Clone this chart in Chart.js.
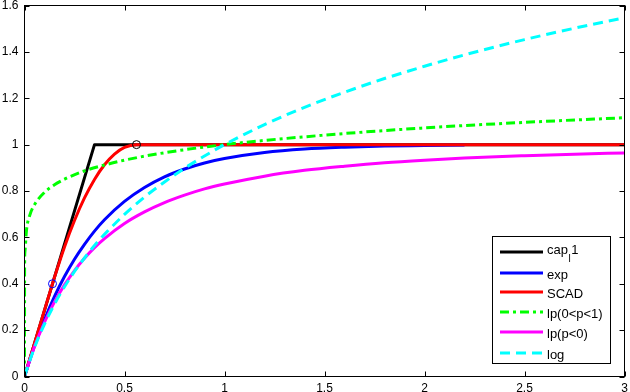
<!DOCTYPE html>
<html><head><meta charset="utf-8">
<style>html,body{margin:0;padding:0;background:#fff}canvas{display:block}</style>
<script src="https://cdn.jsdelivr.net/npm/chart.js@4.4.1/dist/chart.umd.min.js"></script>
</head><body>
<canvas id="c" width="630" height="392"></canvas>
<script>
// ---- data ----
const xTickValues = [0, 0.5, 1, 1.5, 2, 2.5, 3];
const xTickLabels = ['0', '0.5', '1', '1.5', '2', '2.5', '3'];
const yTickValues = [0, 0.2, 0.4, 0.6, 0.8, 1, 1.2, 1.4, 1.6];
const yTickLabels = ['0', '0.2', '0.4', '0.6', '0.8', '1', '1.2', '1.4', '1.6'];

const seriesNames = ['cap_l1', 'exp', 'SCAD', 'lp(0<p<1)', 'lp(p<0)', 'log'];

const capX = [0, 0.35, 3];
const capY = [0, 1, 1];

const expX = [0,0.05,0.1,0.15,0.2,0.25,0.3,0.35,0.4,0.5,0.6,0.7,0.8,0.9,1,1.2,1.4,1.6,1.8,2,2.2];
const expY = [0,0.131,0.245,0.345,0.431,0.506,0.570,0.627,0.676,0.755,0.815,0.861,0.895,0.921,0.940,0.966,0.981,0.989,0.994,0.996,0.998];

const scadX = [0,0.05,0.1,0.14,0.15,0.2,0.25,0.3,0.35,0.4,0.45,0.5,0.56,3];
const scadY = [0,0.143,0.286,0.4,0.428,0.559,0.673,0.770,0.850,0.913,0.959,0.988,1,1];

const lpPosX = [0,0.0005,0.002,0.01,0.025,0.05,0.1,0.15,0.2,0.3,0.4,0.5,0.7,1,1.5,2,2.5,3];
const lpPosY = [0,0.468,0.537,0.631,0.692,0.741,0.794,0.827,0.851,0.887,0.912,0.933,0.965,1,1.041,1.072,1.096,1.116];

const lpNegX = [0,0.05,0.1,0.15,0.2,0.25,0.3,0.35,0.4,0.5,0.6,0.7,0.8,0.9,1,1.2,1.4,1.6,1.8,2,2.2,2.5,2.75,3];
const lpNegY = [0,0.129,0.234,0.322,0.395,0.457,0.510,0.556,0.595,0.660,0.710,0.750,0.782,0.809,0.830,0.864,0.889,0.907,0.922,0.933,0.942,0.952,0.959,0.964];

const logX = [0,0.05,0.1,0.15,0.2,0.25,0.3,0.35,0.4,0.5,0.6,0.7,0.8,0.9,1,1.2,1.4,1.6,1.8,2,2.2,2.5,2.75,3];
const logY = [0,0.125,0.226,0.312,0.387,0.453,0.511,0.565,0.613,0.699,0.774,0.839,0.898,0.951,1.0,1.086,1.161,1.226,1.285,1.338,1.387,1.453,1.502,1.547];

const markX = [0.14, 0.56];
const markY = [0.4, 1];
const markColors = ['#0000ff', '#000000'];

// ---- build chart ----
const pts = (xs, ys) => xs.map((x, i) => ({x: x, y: ys[i]}));
const FONT = '"Liberation Sans", Arial, Helvetica, sans-serif';

function lineDs(label, xs, ys, color, dash, order, smooth) {
  return {
    type: 'line', label: label, data: pts(xs, ys),
    borderColor: color, backgroundColor: color, borderWidth: 3,
    borderDash: dash, pointRadius: 0, fill: false, order: order,
    cubicInterpolationMode: smooth ? 'monotone' : 'default', tension: 0,
    borderCapStyle: 'butt', borderJoinStyle: 'round'
  };
}

const datasets = [
  lineDs(seriesNames[0], capX, capY, '#000000', [], 7, false),
  lineDs(seriesNames[1], expX, expY, '#0000ff', [], 6, true),
  lineDs(seriesNames[2], scadX, scadY, '#ff0000', [], 5, true),
  lineDs(seriesNames[3], lpPosX, lpPosY, '#00ff00', [9, 4, 3, 4], 4, true),
  lineDs(seriesNames[4], lpNegX, lpNegY, '#ff00ff', [], 3, true),
  lineDs(seriesNames[5], logX, logY, '#00ffff', [10, 6], 2, true),
  {
    type: 'scatter', label: 'markers', data: pts(markX, markY),
    pointRadius: 4, pointBorderWidth: 1, pointBorderColor: markColors,
    pointBackgroundColor: 'rgba(0,0,0,0)', showLine: false, order: 0, inLegend: false
  }
];

const legendRowsY = [252, 273, 292, 312, 332, 353];

const framePlugin = {
  id: 'frameLegend',
  afterDatasetsDraw(chart) {
    const ctx = chart.ctx;
    const a = chart.chartArea;
    const xs = chart.scales.x, ys = chart.scales.y;
    ctx.save();
    ctx.strokeStyle = '#000';
    ctx.lineWidth = 1;
    ctx.setLineDash([]);
    ctx.strokeRect(a.left, a.top, a.right - a.left, a.bottom - a.top);
    const TL = 5;
    ctx.beginPath();
    xTickValues.forEach(v => {
      const px = Math.round(xs.getPixelForValue(v)) + 0.5;
      ctx.moveTo(px, a.bottom); ctx.lineTo(px, a.bottom - TL);
      ctx.moveTo(px, a.top); ctx.lineTo(px, a.top + TL);
    });
    yTickValues.forEach(v => {
      const py = Math.round(ys.getPixelForValue(v)) + 0.5;
      ctx.moveTo(a.left, py); ctx.lineTo(a.left + TL, py);
      ctx.moveTo(a.right, py); ctx.lineTo(a.right - TL, py);
    });
    ctx.stroke();

    // legend box
    const bx = 492.5, by = 236.5, bw = 118, bh = 127;
    ctx.fillStyle = '#fff';
    ctx.fillRect(bx, by, bw, bh);
    ctx.strokeRect(bx, by, bw, bh);
    const lines = chart.data.datasets.filter(d => d.inLegend !== false);
    lines.forEach((d, i) => {
      const y = legendRowsY[i];
      ctx.beginPath();
      ctx.strokeStyle = d.borderColor;
      ctx.lineWidth = 3;
      ctx.lineCap = 'butt';
      ctx.setLineDash(d.borderDash || []);
      ctx.moveTo(500, y); ctx.lineTo(543, y);
      ctx.stroke();
      ctx.setLineDash([]);
      ctx.fillStyle = '#000';
      ctx.textAlign = 'left';
      ctx.textBaseline = 'alphabetic';
      const label = d.label;
      const us = label.indexOf('_');
      if (us >= 0) {
        const main = label.slice(0, us), sub = label.charAt(us + 1), rest = label.slice(us + 2);
        const base = y + 2;
        ctx.font = '13px ' + FONT;
        ctx.fillText(main, 547, base);
        let x = 547 + ctx.measureText(main).width;
        ctx.font = '10px ' + FONT;
        ctx.fillText(sub, x + 0.5, base + 8);
        x += ctx.measureText(sub).width + 1;
        ctx.font = '13px ' + FONT;
        ctx.fillText(rest, x, base);
      } else {
        ctx.font = '13px ' + FONT;
        ctx.fillText(label, 547, y + 5.5);
      }
    });
    ctx.restore();
  }
};

new Chart(document.getElementById('c'), {
  data: { datasets: datasets },
  options: {
    responsive: false,
    devicePixelRatio: 1,
    animation: false,
    events: [],
    layout: { padding: { top: 5.5, right: 5.5, left: 0, bottom: 0 } },
    plugins: { legend: { display: false }, tooltip: { enabled: false } },
    scales: {
      x: {
        type: 'linear', min: 0, max: 3,
        afterBuildTicks: s => { s.ticks = xTickValues.map(v => ({ value: v })); },
        afterFit: s => { s.height = 15.5; s.paddingLeft = 0; s.paddingRight = 0; },
        grid: { display: false, drawTicks: false },
        border: { display: false },
        ticks: {
          autoSkip: false, maxRotation: 0, padding: 5, color: '#000',
          font: { family: FONT, size: 12 },
          callback: (v, i) => xTickLabels[i]
        }
      },
      y: {
        type: 'linear', min: 0, max: 1.6,
        afterBuildTicks: s => { s.ticks = yTickValues.map(v => ({ value: v })); },
        afterFit: s => { s.width = 24.5; s.paddingTop = 0; s.paddingBottom = 0; },
        grid: { display: false, drawTicks: false },
        border: { display: false },
        ticks: {
          autoSkip: false, padding: 6, color: '#000',
          font: { family: FONT, size: 12 },
          callback: (v, i) => yTickLabels[i]
        }
      }
    }
  },
  plugins: [framePlugin]
});
</script>
</body></html>
